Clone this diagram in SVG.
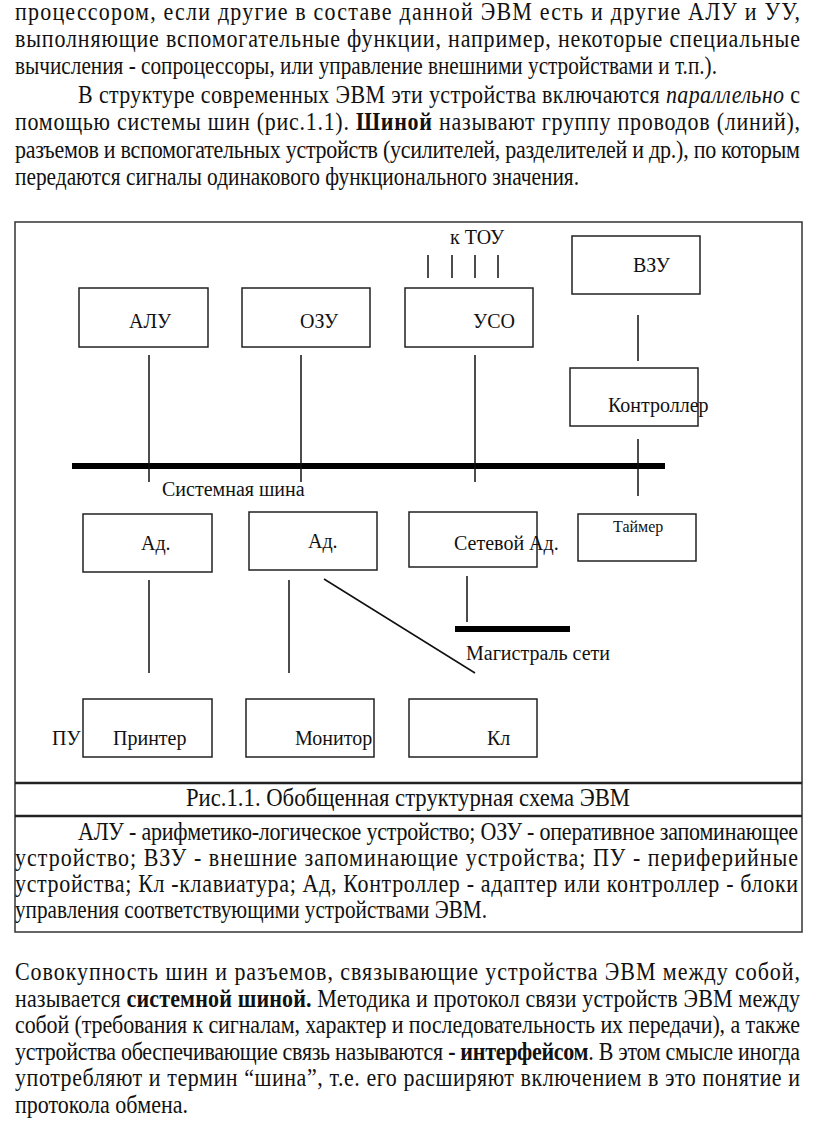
<svg xmlns="http://www.w3.org/2000/svg" width="816" height="1129" viewBox="0 0 816 1129">
<style>
.t{font-family:"Liberation Serif","Times New Roman",serif;font-size:22px;fill:#111}
.d{font-family:"Liberation Serif","Times New Roman",serif;font-size:20px;fill:#111}
.s{font-family:"Liberation Serif","Times New Roman",serif;font-size:16px;fill:#111}
.b{font-weight:bold}
.i{font-style:italic}
.box{fill:none;stroke:#222;stroke-width:1.5}
.ln{stroke:#111;stroke-width:1.5;fill:none}
.bus{stroke:#000;stroke-width:6}
.fr{fill:none;stroke:#333;stroke-width:1.5}
.fr2{stroke:#222;stroke-width:2.5}
</style>
<rect width="816" height="1129" fill="#fff"/>
<g id="text-top">
<text class="t" transform="translate(15,20) scale(1,1.1)" textLength="785" lengthAdjust="spacing">процессором, если другие в составе данной ЭВМ есть и другие АЛУ и УУ,</text>
<text class="t" transform="translate(15,47) scale(1,1.1)" textLength="785" lengthAdjust="spacing">выполняющие вспомогательные функции, например, некоторые специальные</text>
<text class="t" transform="translate(15,74) scale(1,1.1)" textLength="702" lengthAdjust="spacingAndGlyphs">вычисления - сопроцессоры, или управление внешними устройствами и т.п.).</text>
<text class="t" transform="translate(78,103) scale(1,1.1)" textLength="722" lengthAdjust="spacing">В структуре современных ЭВМ эти устройства включаются <tspan class="i">параллельно</tspan> с</text>
<text class="t" transform="translate(15,130) scale(1,1.1)" textLength="785" lengthAdjust="spacing">помощью системы шин (рис.1.1). <tspan class="b">Шиной</tspan> называют группу проводов (линий),</text>
<text class="t" transform="translate(15,158) scale(1,1.1)" textLength="785" lengthAdjust="spacing">разъемов и вспомогательных устройств (усилителей, разделителей и др.), по которым</text>
<text class="t" transform="translate(15,185) scale(1,1.1)" textLength="564" lengthAdjust="spacingAndGlyphs">передаются сигналы одинакового функционального значения.</text>
</g>
<g id="frame">
<rect class="fr" x="15" y="222" width="787" height="710"/>
<line class="fr2" x1="15" y1="783" x2="802" y2="783"/>
<line class="fr2" x1="15" y1="816" x2="802" y2="816"/>
</g>
<g id="connectors">
<line class="bus" x1="72" y1="466" x2="665" y2="466"/>
<line class="ln" x1="149" y1="355" x2="149" y2="482"/>
<line class="ln" x1="301" y1="355" x2="301" y2="482"/>
<line class="ln" x1="475" y1="355" x2="475" y2="482"/>
<line class="ln" x1="638" y1="315" x2="638" y2="361"/>
<line class="ln" x1="638" y1="439" x2="638" y2="496"/>
<line class="ln" x1="428" y1="255" x2="428" y2="278"/>
<line class="ln" x1="452" y1="255" x2="452" y2="278"/>
<line class="ln" x1="475" y1="255" x2="475" y2="278"/>
<line class="ln" x1="498" y1="255" x2="498" y2="278"/>
<line class="ln" x1="149" y1="580" x2="149" y2="673"/>
<line class="ln" x1="289" y1="580" x2="289" y2="673"/>
<line class="ln" x1="324" y1="579" x2="475" y2="673"/>
<line class="ln" x1="467" y1="576" x2="467" y2="622"/>
<line class="bus" x1="455" y1="629" x2="570" y2="629"/>
</g>
<g id="tou"><text class="d" x="450" y="244">к ТОУ</text></g>
<g id="alu"><rect class="box" x="79" y="288" width="129" height="59"/><text class="d" x="129" y="328">АЛУ</text></g>
<g id="ozu"><rect class="box" x="242" y="288" width="128" height="59"/><text class="d" x="300" y="328">ОЗУ</text></g>
<g id="uso"><rect class="box" x="405" y="288" width="128" height="59"/><text class="d" x="473" y="328">УСО</text></g>
<g id="vzu"><rect class="box" x="572" y="236" width="128" height="58"/><text class="d" x="633" y="272">ВЗУ</text></g>
<g id="controller"><rect class="box" x="570" y="368" width="128" height="58"/><text class="d" x="608" y="412">Контроллер</text></g>
<g id="sysbus-label"><text class="d" x="162" y="496">Системная шина</text></g>
<g id="ad1"><rect class="box" x="83" y="514" width="129" height="58"/><text class="d" x="141" y="550">Ад.</text></g>
<g id="ad2"><rect class="box" x="249" y="512" width="128" height="58"/><text class="d" x="308" y="548">Ад.</text></g>
<g id="netad"><rect class="box" x="409" y="512" width="128" height="55"/><text class="d" x="454" y="550">Сетевой Ад.</text></g>
<g id="timer"><rect class="box" x="578" y="514" width="118" height="47"/><text class="s" x="613" y="532">Таймер</text></g>
<g id="netbus-label"><text class="d" x="466" y="660">Магистраль сети</text></g>
<g id="pu"><text class="d" x="52" y="745">ПУ</text></g>
<g id="printer"><rect class="box" x="83" y="699" width="129" height="58"/><text class="d" x="113" y="745">Принтер</text></g>
<g id="monitor"><rect class="box" x="246" y="699" width="128" height="58"/><text class="d" x="295" y="745">Монитор</text></g>
<g id="kl"><rect class="box" x="409" y="699" width="128" height="58"/><text class="d" x="487" y="745">Кл</text></g>
<g id="caption">
<text class="t" transform="translate(186,806) scale(1,1.1)" textLength="444" lengthAdjust="spacingAndGlyphs">Рис.1.1. Обобщенная структурная схема ЭВМ</text>
</g>
<g id="legend">
<text class="t" transform="translate(78,840) scale(1,1.1)" textLength="720" lengthAdjust="spacing">АЛУ - арифметико-логическое устройство; ОЗУ -  оперативное запоминающее</text>
<text class="t" transform="translate(15,866) scale(1,1.1)" textLength="783" lengthAdjust="spacing">устройство; ВЗУ - внешние запоминающие устройства; ПУ - периферийные</text>
<text class="t" transform="translate(15,892) scale(1,1.1)" textLength="783" lengthAdjust="spacing">устройства; Кл -клавиатура; Ад, Контроллер - адаптер или контроллер - блоки</text>
<text class="t" transform="translate(15,918) scale(1,1.1)" textLength="472" lengthAdjust="spacingAndGlyphs">управления соответствующими устройствами ЭВМ.</text>
</g>
<g id="text-bottom">
<text class="t" transform="translate(15,980) scale(1,1.1)" textLength="785" lengthAdjust="spacing">Совокупность шин и разъемов, связывающие устройства ЭВМ между собой,</text>
<text class="t" transform="translate(15,1007) scale(1,1.1)" textLength="785" lengthAdjust="spacing">называется <tspan class="b">системной шиной.</tspan> Методика и протокол связи устройств ЭВМ между</text>
<text class="t" transform="translate(15,1033) scale(1,1.1)" textLength="785" lengthAdjust="spacing">собой (требования к сигналам, характер и последовательность их передачи), а также</text>
<text class="t" transform="translate(15,1060) scale(1,1.1)" textLength="785" lengthAdjust="spacing">устройства обеспечивающие связь называются <tspan class="b">- интерфейсом</tspan>. В этом смысле иногда</text>
<text class="t" transform="translate(15,1086) scale(1,1.1)" textLength="785" lengthAdjust="spacing">употребляют и термин “шина”, т.е. его расширяют включением в это понятие и</text>
<text class="t" transform="translate(15,1113) scale(1,1.1)" textLength="173" lengthAdjust="spacingAndGlyphs">протокола обмена.</text>
</g>
</svg>
